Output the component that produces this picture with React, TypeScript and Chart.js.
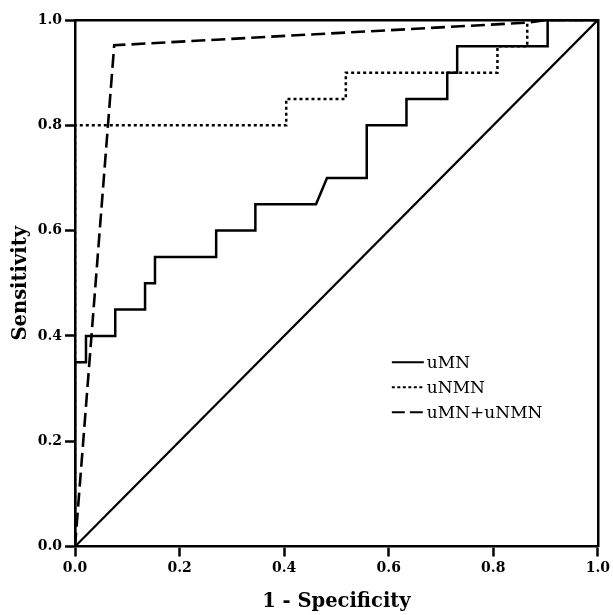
import React, { useEffect, useRef } from "react";
import { Chart, registerables } from "chart.js";

Chart.register(...registerables);

// ROC curve points (1 - specificity, sensitivity)
const umnX = [0, 0, 0.021, 0.021, 0.077, 0.077, 0.134, 0.134, 0.153, 0.153, 0.27, 0.27, 0.345, 0.345, 0.461, 0.482, 0.558, 0.558, 0.634, 0.634, 0.712, 0.712, 0.731, 0.731, 0.904, 0.904, 1];
const umnY = [0, 0.35, 0.35, 0.4, 0.4, 0.45, 0.45, 0.5, 0.5, 0.55, 0.55, 0.6, 0.6, 0.65, 0.65, 0.7, 0.7, 0.8, 0.8, 0.85, 0.85, 0.9, 0.9, 0.95, 0.95, 1, 1];

const unmnX = [0, 0, 0.404, 0.404, 0.518, 0.518, 0.808, 0.808, 0.865, 0.865, 1];
const unmnY = [0, 0.8, 0.8, 0.85, 0.85, 0.9, 0.9, 0.95, 0.95, 1, 1];

const combX = [0, 0.075, 0.865, 0.9, 1];
const combY = [0, 0.952, 0.995, 1, 1];

const refX = [0, 1];
const refY = [0, 1];

const seriesLabels = ["uMN", "uNMN", "uMN+uNMN"];
const xTitle = "1 - Specificity";
const yTitle = "Sensitivity";

const FONT = "'DejaVu Serif', 'Liberation Serif', serif";
const INK = "#000";

const toPts = (xs: number[], ys: number[]) => xs.map((x, i) => ({ x, y: ys[i] }));

const insideLegend = {
  id: "insideLegend",
  afterDatasetsDraw(chart: any) {
    const { ctx, chartArea: a } = chart;
    const w = a.right - a.left;
    const h = a.bottom - a.top;
    const items = chart.data.datasets.filter((d: any) => d.label);
    ctx.save();
    ctx.font = `17px ${FONT}`;
    ctx.fillStyle = INK;
    ctx.textBaseline = "middle";
    ctx.textAlign = "left";
    items.forEach((d: any, i: number) => {
      const x1 = a.left + 0.606 * w;
      const x2 = x1 + 32;
      const y = a.top + (0.65 + i * 0.0475) * h;
      ctx.beginPath();
      ctx.strokeStyle = INK;
      ctx.lineWidth = 2;
      ctx.setLineDash(d.legendDash || []);
      ctx.moveTo(x1, y);
      ctx.lineTo(x2, y);
      ctx.stroke();
      ctx.setLineDash([]);
      ctx.fillText(d.label, x2 + 3, y + 1);
    });
    ctx.restore();
  },
};

export default function App() {
  const ref = useRef<HTMLCanvasElement | null>(null);

  useEffect(() => {
    if (!ref.current) return;
    const tickFont = { family: FONT, size: 14, weight: "bold" as const };
    const titleFont = { family: FONT, size: 19.5, weight: "bold" as const };
    const chart = new Chart(ref.current, {
      type: "scatter",
      data: {
        datasets: [
          {
            label: "",
            data: toPts(refX, refY),
            showLine: true,
            borderColor: INK,
            borderWidth: 2.2,
            pointRadius: 0,
            tension: 0,
          },
          {
            label: seriesLabels[0],
            data: toPts(umnX, umnY),
            showLine: true,
            borderColor: INK,
            borderWidth: 2.5,
            pointRadius: 0,
            tension: 0,
            legendDash: [],
          } as any,
          {
            label: seriesLabels[1],
            data: toPts(unmnX, unmnY),
            showLine: true,
            borderColor: INK,
            borderWidth: 2.5,
            borderDash: [3, 3],
            pointRadius: 0,
            tension: 0,
            legendDash: [3, 2.5],
          } as any,
          {
            label: seriesLabels[2],
            data: toPts(combX, combY),
            showLine: true,
            borderColor: INK,
            borderWidth: 2.6,
            borderDash: [14, 6],
            pointRadius: 0,
            tension: 0,
            legendDash: [13, 5],
          } as any,
        ],
      },
      options: {
        responsive: false,
        animation: false,
        devicePixelRatio: 1,
        layout: { padding: { top: 20, right: 12, left: 0, bottom: 0 } },
        plugins: { legend: { display: false }, tooltip: { enabled: false } },
        scales: {
          x: {
            type: "linear",
            position: "bottom",
            min: 0,
            max: 1,
            ticks: {
              stepSize: 0.2,
              callback: (v: any) => Number(v).toFixed(1),
              color: INK,
              font: tickFont,
              padding: 3,
              maxRotation: 0,
            },
            grid: { drawOnChartArea: false, tickLength: 10, tickWidth: 2.5, tickColor: INK },
            border: { width: 2.5, color: INK },
            title: { display: true, text: xTitle, color: INK, font: titleFont, padding: { top: 0, bottom: 1 } },
            afterFit: (s: any) => {
              s.height = 68.5;
            },
          },
          y: {
            type: "linear",
            position: "left",
            min: 0,
            max: 1,
            ticks: {
              stepSize: 0.2,
              callback: (v: any) => Number(v).toFixed(1),
              color: INK,
              font: tickFont,
              padding: 3,
            },
            grid: { drawOnChartArea: false, tickLength: 10, tickWidth: 2.5, tickColor: INK },
            border: { width: 2.5, color: INK },
            title: { display: true, text: yTitle, color: INK, font: titleFont, padding: { top: 9, bottom: 0 } },
            afterFit: (s: any) => {
              s.width = 75;
            },
          },
          x2: {
            type: "linear",
            position: "top",
            min: 0,
            max: 1,
            ticks: { display: false },
            grid: { drawOnChartArea: false, drawTicks: false },
            border: { width: 2.5, color: INK },
            afterFit: (s: any) => {
              s.height = 0;
            },
          },
          y2: {
            type: "linear",
            position: "right",
            min: 0,
            max: 1,
            ticks: { display: false },
            grid: { drawOnChartArea: false, drawTicks: false },
            border: { width: 2.5, color: INK },
            afterFit: (s: any) => {
              s.width = 0;
            },
          },
        },
      },
      plugins: [insideLegend],
    });
    return () => chart.destroy();
  }, []);

  return (
    <div style={{ position: "absolute", left: 0, top: 0, width: 613, height: 615, background: "#fff" }}>
      <canvas ref={ref} width={613} height={615} />
    </div>
  );
}
